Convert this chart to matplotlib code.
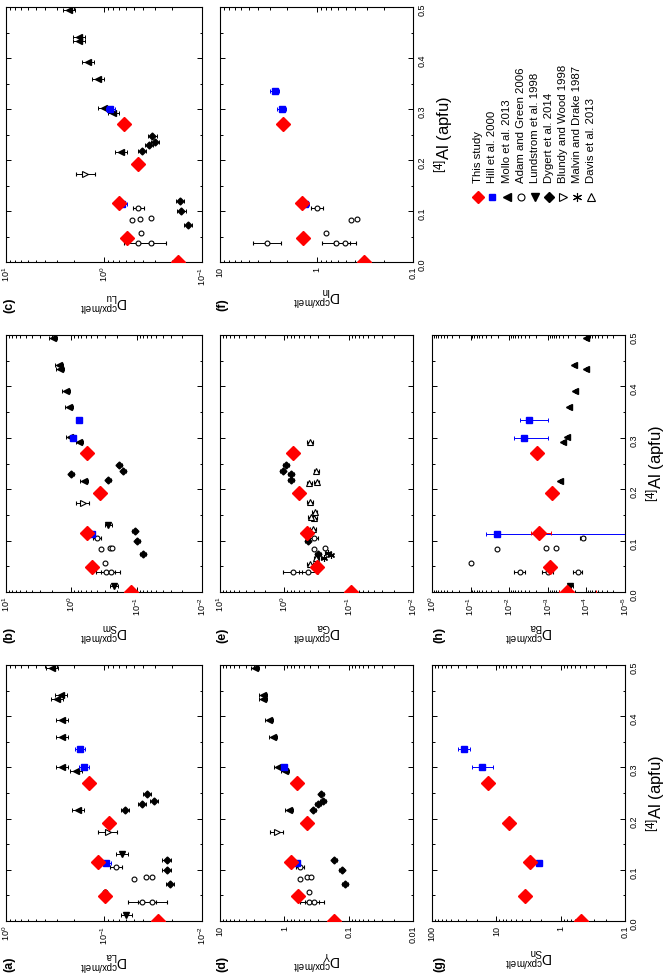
import numpy as np
import matplotlib
matplotlib.use('Agg')
import matplotlib.pyplot as plt
from matplotlib.ticker import FuncFormatter, FormatStrFormatter, MultipleLocator, LogLocator, NullFormatter

plt.rcParams['font.family'] = ['Liberation Sans', 'DejaVu Sans']
plt.rcParams['mathtext.fontset'] = 'custom'
plt.rcParams['mathtext.rm'] = 'Liberation Sans'
plt.rcParams['mathtext.it'] = 'Liberation Sans:italic'
plt.rcParams['mathtext.bf'] = 'Liberation Sans:bold'

nan = np.nan

# [4]Al (apfu) of each data set
al_this = [0.0, 0.048, 0.115, 0.192, 0.270]
al_hill = [0.113, 0.300, 0.335]
al_mollo = [0.216, 0.292, 0.301, 0.359, 0.392, 0.433, 0.442, 0.495]
al_lund = [0.011, 0.131]
al_dygert = [0.073, 0.100, 0.119, 0.217, 0.229, 0.235, 0.248]
al_adam = [0.038, 0.038, 0.038, 0.057, 0.083, 0.085, 0.086, 0.106]
al_blundy = [0.173]
al_malvin = [0.067, 0.072, 0.075]
al_davis = [0.054, 0.066, 0.122, 0.143, 0.145, 0.155, 0.175, 0.213, 0.214, 0.236, 0.292]

# D cpx/melt per element
d_this = {'La': [0.028, 0.098, 0.116, 0.088, 0.143],
          'Sm': [0.121, 0.478, 0.585, 0.363, 0.57],
          'Lu': [0.175, 0.585, 0.70, 0.445, 0.63],
          'Y': [0.167, 0.62, 0.79, 0.44, 0.64],
          'Ga': [0.091, 0.316, 0.45, 0.586, 0.74],
          'In': [0.32, 1.37, 1.42, nan, 2.22],
          'Sn': [0.478, 3.63, 2.96, 6.35, 13.5],
          'Ba': [3.1e-4, 8.7e-4, 1.7e-3, 7.9e-4, 1.9e-3]}
d_hill = {'La': [0.095, 0.160, 0.177],
          'Sm': [0.478, 0.94, 0.76],
          'Lu': [0.66, 0.86, nan],
          'Y': [0.64, 1.0, nan],
          'In': [1.33, 2.3, 2.72],
          'Sn': [2.17, 16.5, 31.8],
          'Ba': [0.021, 4.1e-3, 3.05e-3]}
d_mollo = {'La': [0.185, 0.195, 0.267, 0.27, 0.267, 0.30, 0.277, 0.336],
           'Sm': [0.64, 0.75, 1.05, 1.1, 1.2, 1.48, 1.52, 1.88],
           'Lu': [0.667, 0.80, 1.0, 1.15, 1.45, 1.81, 1.81, 2.28],
           'Y': [0.84, 0.99, 1.24, 1.52, 1.71, 2.17, 2.17, 2.86],
           'Ba': [4.9e-4, 4e-4, 3.1e-4, 2.9e-4, 2.0e-4, 1.0e-4, 2.1e-4, 1.0e-4]}
d_lund = {'La': [0.059, 0.066],
          'Sm': [0.22, 0.27],
          'Ba': [2.6e-4, nan]}
d_dygert = {'La': [0.0213, 0.023, 0.023, 0.0607, 0.0406, 0.031, 0.0367],
            'Sm': [0.080, 0.098, 0.107, 0.27, 1.0, 0.16, 0.184],
            'Lu': [0.139, 0.162, 0.167, 0.406, 0.344, 0.302, 0.32],
            'Y': [0.114, 0.128, 0.167, 0.354, 0.30, 0.25, 0.265],
            'Ga': [0.30, 0.435, nan, 0.79, 0.79, 1.06, 0.94]}
d_adam = {'La': [0.041, 0.032, nan, 0.098, 0.05, 0.037, 0.032, 0.075],
          'Sm': [0.296, 0.248, nan, 0.31, 0.35, 0.256, 0.236, 0.41],
          'Lu': [0.445, 0.33, nan, 0.42, 0.52, 0.43, 0.33, 0.445],
          'Y': [0.41, 0.34, nan, 0.42, 0.57, 0.45, 0.39, 0.57],
          'Ga': [0.74, 0.425, nan, nan, 0.35, 0.23, nan, 0.345],
          'In': [3.27, 0.63, 0.51, 0.80, 0.44, 0.38, nan, 0.98],
          'Ba': [5.4e-3, 1e-3, 1.7e-4, 0.1, 0.021, 1.1e-3, 6.1e-4, 1.26e-4]}
d_blundy = {'La': [0.092], 'Sm': [0.667], 'Lu': [1.55], 'Y': [1.32]}
d_malvin = {'Ga': [0.246, 0.19, 0.21]}
d_davis = {'Ga': [0.40, 0.32, 0.36, 0.34, 0.39, 0.336, 0.40, 0.41, 0.316, 0.32, 0.40]}

# relative errors, and explicit ones for Ba
adam_rel = [0.4, 0.4, 0.3, 0.0, 0.0, 0.0, 0.0, 0.15]
hill_rel_sn = [0.1, 0.45, 0.25]
ba_this_lo = [2.54e-4, 1.8e-4, 0.86e-3, 1.6e-4, 0.4e-3]
ba_this_hi = [2.0e-4, 2.0e-4, 1.0e-3, 2.0e-4, 0.5e-3]
ba_hill_lo = [0.021 * 0.9999, 3.1e-3, 2.05e-3]
ba_hill_hi = [0.020, 3.4e-3, 2.25e-3]

elements = ['La', 'Sm', 'Lu', 'Y', 'Ga', 'In', 'Sn', 'Ba']
letters = ['a', 'b', 'c', 'd', 'e', 'f', 'g', 'h']
xlims = {'La': (1, 1e-2), 'Sm': (10, 1e-2), 'Lu': (10, 1e-1), 'Y': (10, 1e-2),
         'Ga': (10, 1e-2), 'In': (10, 1e-1), 'Sn': (100, 1e-1), 'Ba': (1, 1e-5)}
plain_fmt = ['Y', 'In', 'Sn']

legend_names = ['This study', 'Hill et al. 2000', 'Mollo et al. 2013', 'Adam and Green 2006',
                'Lundstrom et al. 1998', 'Dygert et al. 2014', 'Blundy and Wood 1998',
                'Malvin and Drake 1987', 'Davis et al. 2013']

eb = dict(linestyle='none', elinewidth=0.7, capsize=1.5, capthick=0.7)
st_this = dict(marker='D', color='red', ms=7, ecolor='red', zorder=10, **eb)
st_hill = dict(marker='s', color='blue', ms=4, ecolor='blue', zorder=9, **eb)
st_mollo = dict(marker='<', color='black', ms=4.5, zorder=5, **eb)
st_adam = dict(marker='o', mfc='white', mec='black', ecolor='black', ms=3.5, mew=0.8, zorder=4, **eb)
st_lund = dict(marker='v', color='black', ms=4.5, zorder=5, **eb)
st_dygert = dict(marker='D', color='black', ms=3.5, zorder=5, **eb)
st_blundy = dict(marker='>', mfc='white', mec='black', ecolor='black', ms=4, mew=0.8, zorder=4, **eb)
st_malvin = dict(marker=(6, 2, 0), color='black', ms=5, mew=0.8, zorder=4, **eb)
st_davis = dict(marker='^', mfc='white', mec='black', ecolor='black', ms=4, mew=0.8, zorder=4, **eb)


def draw(ax, al, d, rel, style, lo=None, hi=None):
    al = np.asarray(al, float)
    d = np.asarray(d, float)
    rel = np.broadcast_to(np.asarray(rel, float), d.shape)
    if lo is None:
        lo = d - d / (1 + rel)
        hi = d * rel
    lo = np.asarray(lo, float)
    hi = np.asarray(hi, float)
    m = ~np.isnan(d)
    if m.any():
        ax.errorbar(d[m], al[m], xerr=[lo[m], hi[m]], **style)


W, H = 671, 975
fig = plt.figure(figsize=(W / 100, H / 100), dpi=100)

cols = [(6, 202), (220, 413), (432, 625)]
rows = [(665, 921), (335, 592), (7, 262)]
label_x = [9, 222, 439]

for i, (el, let) in enumerate(zip(elements, letters)):
    c, r = divmod(i, 3)
    x0, x1 = cols[c]
    y0, y1 = rows[r]
    ax = fig.add_axes([x0 / W, 1 - y1 / H, (x1 - x0) / W, (y1 - y0) / H])

    if el == 'Ba':
        draw(ax, al_this, d_this[el], 0, st_this, ba_this_lo, ba_this_hi)
        draw(ax, al_hill, d_hill[el], 0, st_hill, ba_hill_lo, ba_hill_hi)
    else:
        draw(ax, al_this, d_this[el], 0.12, st_this)
        if el in d_hill:
            draw(ax, al_hill, d_hill[el], hill_rel_sn if el == 'Sn' else 0.12, st_hill)
    if el in d_mollo:
        draw(ax, al_mollo, d_mollo[el], 0.0 if el == 'Ba' else 0.15, st_mollo)
    if el in d_adam:
        draw(ax, al_adam, d_adam[el], adam_rel, st_adam)
    if el in d_lund:
        draw(ax, al_lund, d_lund[el], 0.15, st_lund)
    if el in d_dygert:
        draw(ax, al_dygert, d_dygert[el], 0.1, st_dygert)
    if el in d_blundy:
        draw(ax, al_blundy, d_blundy[el], 0.25, st_blundy)
    if el in d_malvin:
        draw(ax, al_malvin, d_malvin[el], 0.1, st_malvin)
    if el in d_davis:
        draw(ax, al_davis, d_davis[el], 0.1, st_davis)

    ax.set_xscale('log')
    ax.set_xlim(*xlims[el])
    ax.set_ylim(0, 0.5)
    ax.yaxis.set_major_locator(MultipleLocator(0.1))
    ax.yaxis.set_minor_locator(MultipleLocator(0.05))
    ax.xaxis.set_major_locator(LogLocator(base=10, numticks=10))
    ax.xaxis.set_minor_locator(LogLocator(base=10, subs=np.arange(2, 10), numticks=10))
    ax.xaxis.set_minor_formatter(NullFormatter())
    if el in plain_fmt:
        ax.xaxis.set_major_formatter(FuncFormatter(lambda v, p: f'{v:g}'))
    ax.tick_params(which='both', direction='in', top=True, bottom=True, left=True, right=True,
                   width=0.7, labelsize=6.5)
    ax.tick_params(which='major', length=3.5)
    ax.tick_params(which='minor', length=1.8)
    ax.tick_params(axis='x', labelrotation=90)
    ax.tick_params(axis='y', labelleft=False, labelright=el in ('In', 'Sn', 'Ba'), labelrotation=90)
    ax.yaxis.set_major_formatter(FormatStrFormatter('%.1f'))
    for s in ax.spines.values():
        s.set_linewidth(0.8)

    ax.set_xlabel(r'$\mathrm{D}^{\mathrm{cpx/melt}}_{\mathrm{%s}}$' % el, rotation=180,
                  fontsize=10, labelpad=3)
    if el in ('In', 'Sn', 'Ba'):
        ax.yaxis.set_label_position('right')
        ax.set_ylabel(r'$^{[4]}$Al (apfu)', fontsize=12, rotation=90, labelpad=4)

    fig.text(label_x[c] / W, 1 - (y1 + 43) / H, f'({let})', rotation=90, fontsize=9,
             fontweight='bold', ha='center', va='center')

# legend, drawn in figure pixel space
leg = fig.add_axes([0, 0, 1, 1])
leg.set_xlim(0, W)
leg.set_ylim(H, 0)
leg.axis('off')
leg_styles = [st_this, st_hill, st_mollo, st_adam, st_lund, st_dygert, st_blundy, st_malvin, st_davis]
leg_ms = [6.5, 5, 6, 5, 6, 5.5, 6, 6.5, 6]
for k, (name, st) in enumerate(zip(legend_names, leg_styles)):
    xk = 478.3 + 14.1 * k
    kw = {kk: vv for kk, vv in st.items() if kk in ('marker', 'color', 'mfc', 'mec', 'mew')}
    leg.plot([xk], [197], linestyle='none', ms=leg_ms[k], **kw)
    leg.text(xk, 183, name, rotation=90, fontsize=8.2, ha='center', va='bottom')

fig.savefig('out.png', dpi=100)
